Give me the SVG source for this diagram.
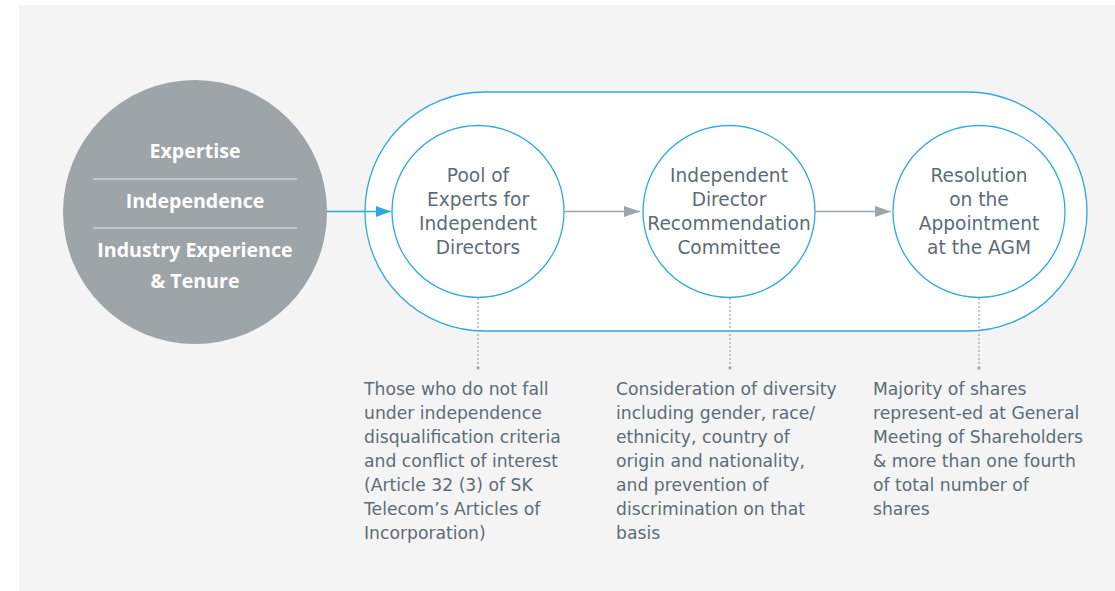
<svg xmlns="http://www.w3.org/2000/svg" width="1115" height="591" viewBox="0 0 1115 591">
<style>
.t{font-family:"DejaVu Sans","Open Sans",sans-serif;fill:#5e6c75;}
.c{font-size:18.6px;text-anchor:middle;}
.n{font-size:17.2px;}
.w{font-family:"Open Sans","Liberation Sans",sans-serif;font-weight:bold;fill:#ffffff;font-size:19.6px;text-anchor:middle;}
.ring{fill:#ffffff;stroke:#2ea8df;stroke-width:1.3;}
.dot{stroke:#9ea5aa;stroke-width:1.2;stroke-dasharray:2 2;fill:none;}
</style>
<defs>
<marker id="ab" markerWidth="16" markerHeight="12" refX="15" refY="5.5" orient="auto" markerUnits="userSpaceOnUse">
<path d="M0,0 L15,5.5 L0,11 Z" fill="#2ea8df"/>
</marker>
<marker id="ag" markerWidth="18" markerHeight="12" refX="16" refY="5.5" orient="auto" markerUnits="userSpaceOnUse">
<path d="M0,0 L16,5.5 L0,11 Z" fill="#9ea5aa"/>
</marker>
</defs>
<rect x="19" y="5" width="1096" height="586" fill="#f4f4f4"/>
<g id="container">
<rect x="365" y="92" width="722" height="239" rx="119.5" ry="119.5" class="ring" stroke-width="1.2"/>
</g>
<g id="criteria">
<circle cx="195" cy="212" r="132" fill="#9da5a9"/>
<line x1="93" y1="179" x2="297" y2="179" stroke="#e6e8e9" stroke-width="1.2"/>
<line x1="93" y1="228" x2="297" y2="228" stroke="#e6e8e9" stroke-width="1.2"/>
<text class="w" x="195" y="158">Expertise</text>
<text class="w" x="195" y="207.5">Independence</text>
<text class="w" x="195" y="257">Industry Experience</text>
<text class="w" x="195" y="288">&amp; Tenure</text>
</g>
<g id="pool">
<circle cx="478" cy="211.5" r="86" class="ring"/>
<text class="t c" x="478" y="182">Pool of</text>
<text class="t c" x="478" y="206">Experts for</text>
<text class="t c" x="478" y="230">Independent</text>
<text class="t c" x="478" y="254">Directors</text>
</g>
<g id="committee">
<circle cx="729" cy="211.5" r="86" class="ring"/>
<text class="t c" x="729" y="182">Independent</text>
<text class="t c" x="729" y="206">Director</text>
<text class="t c" x="729" y="230">Recommendation</text>
<text class="t c" x="729" y="254">Committee</text>
</g>
<g id="resolution">
<circle cx="979" cy="211.5" r="86" class="ring"/>
<text class="t c" x="979" y="182">Resolution</text>
<text class="t c" x="979" y="206">on the</text>
<text class="t c" x="979" y="230">Appointment</text>
<text class="t c" x="979" y="254">at the AGM</text>
</g>
<g id="connectors">
<line x1="327" y1="211.5" x2="391" y2="211.5" stroke="#2ea8df" stroke-width="1.3" marker-end="url(#ab)"/>
<line x1="564" y1="211.5" x2="640" y2="211.5" stroke="#9ea5aa" stroke-width="1.3" marker-end="url(#ag)"/>
<line x1="815" y1="211.5" x2="891" y2="211.5" stroke="#9ea5aa" stroke-width="1.3" marker-end="url(#ag)"/>
<line x1="478" y1="298" x2="478" y2="367" class="dot"/>
<circle cx="478" cy="368" r="1.6" fill="#9ea5aa"/>
<line x1="730" y1="298" x2="730" y2="367" class="dot"/>
<circle cx="730" cy="368" r="1.6" fill="#9ea5aa"/>
<line x1="979" y1="298" x2="979" y2="367" class="dot"/>
<circle cx="979" cy="368" r="1.6" fill="#9ea5aa"/>
</g>
<g id="note1">
<text class="t n" x="364" y="395">Those who do not fall</text>
<text class="t n" x="364" y="419">under independence</text>
<text class="t n" x="364" y="443">disqualification criteria</text>
<text class="t n" x="364" y="467">and conflict of interest</text>
<text class="t n" x="364" y="491">(Article 32 (3) of SK</text>
<text class="t n" x="364" y="515">Telecom’s Articles of</text>
<text class="t n" x="364" y="539">Incorporation)</text>
</g>
<g id="note2">
<text class="t n" x="616" y="395">Consideration of diversity</text>
<text class="t n" x="616" y="419">including gender, race/</text>
<text class="t n" x="616" y="443">ethnicity, country of</text>
<text class="t n" x="616" y="467">origin and nationality,</text>
<text class="t n" x="616" y="491">and prevention of</text>
<text class="t n" x="616" y="515">discrimination on that</text>
<text class="t n" x="616" y="539">basis</text>
</g>
<g id="note3">
<text class="t n" x="873" y="395">Majority of shares</text>
<text class="t n" x="873" y="419">represent-ed at General</text>
<text class="t n" x="873" y="443">Meeting of Shareholders</text>
<text class="t n" x="873" y="467">&amp; more than one fourth</text>
<text class="t n" x="873" y="491">of total number of</text>
<text class="t n" x="873" y="515">shares</text>
</g>
</svg>
